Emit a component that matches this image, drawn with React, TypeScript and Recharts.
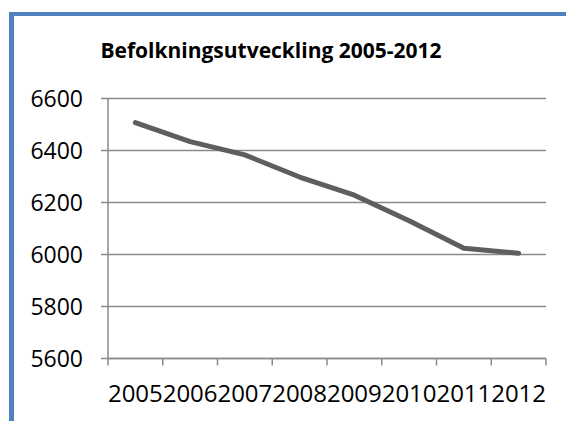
import { LineChart, Line, XAxis, YAxis, CartesianGrid } from "recharts";

// Befolkning per år
const years = [2005, 2006, 2007, 2008, 2009, 2010, 2011, 2012];
const population = [6507, 6434, 6383, 6298, 6228, 6130, 6024, 6005];
const yTicks = [5600, 5800, 6000, 6200, 6400, 6600];

const data = years.map((year, i) => ({ year, population: population[i] }));

// category boundaries get the tick marks, the years get the labels
const xTicks = [years[0] - 0.5, ...years.flatMap((y) => [y, y + 0.5])];

const GRID = "#8a8a8a";
const FONT = "'Open Sans', 'Noto Sans', sans-serif";
const TICK_LEN = 7;
const X_MARGIN = 19;

function YearTick(props: any) {
  const { x, y, payload } = props;
  const v = payload.value as number;
  if (Number.isInteger(v)) {
    return (
      <text
        x={x}
        y={y}
        dy="0.71em"
        textAnchor="middle"
        fontSize={24}
        fontFamily={FONT}
        fill="#000"
      >
        {v}
      </text>
    );
  }
  const top = y - X_MARGIN - TICK_LEN;
  return <line x1={x} x2={x} y1={top} y2={top + TICK_LEN} stroke={GRID} strokeWidth={1.5} />;
}

export default function App() {
  return (
    <div
      style={{
        position: "absolute",
        left: 0,
        top: 0,
        width: 566,
        height: 421,
        background: "#fff",
        overflow: "hidden",
      }}
    >
      <div
        style={{
          position: "absolute",
          left: 9,
          top: 12,
          width: 700,
          height: 600,
          borderLeft: "5px solid #4f81bd",
          borderTop: "4px solid #4f81bd",
        }}
      />
      <div
        style={{
          position: "absolute",
          left: 0,
          width: 542,
          top: 37,
          textAlign: "center",
          fontFamily: FONT,
          fontWeight: "bold",
          fontSize: 21,
          lineHeight: "26px",
          color: "#000",
        }}
      >
        Befolkningsutveckling 2005-2012
      </div>
      <div style={{ position: "absolute", left: 0, top: 0 }}>
        <LineChart
          width={566}
          height={421}
          data={data}
          margin={{ top: 98.5, right: 20, bottom: 0, left: 0 }}
        >
          <CartesianGrid vertical={false} stroke={GRID} strokeWidth={1.5} />
          <XAxis
            dataKey="year"
            type="number"
            domain={[years[0] - 0.5, years[years.length - 1] + 0.5]}
            ticks={xTicks}
            interval={0}
            height={62.5}
            tickLine={false}
            tickSize={TICK_LEN}
            tickMargin={X_MARGIN}
            axisLine={{ stroke: GRID, strokeWidth: 1.5 }}
            tick={<YearTick />}
          />
          <YAxis
            domain={[5600, 6600]}
            ticks={yTicks}
            interval={0}
            width={108}
            tickSize={TICK_LEN}
            tickMargin={18}
            axisLine={{ stroke: GRID, strokeWidth: 1.5 }}
            tickLine={{ stroke: GRID, strokeWidth: 1.5 }}
            tick={{ fontSize: 23, fontFamily: FONT, fill: "#000" }}
          />
          <Line
            dataKey="population"
            type="linear"
            stroke="#5e5e5e"
            strokeWidth={5}
            strokeLinecap="round"
            strokeLinejoin="round"
            dot={false}
            activeDot={false}
            isAnimationActive={false}
          />
        </LineChart>
      </div>
    </div>
  );
}
